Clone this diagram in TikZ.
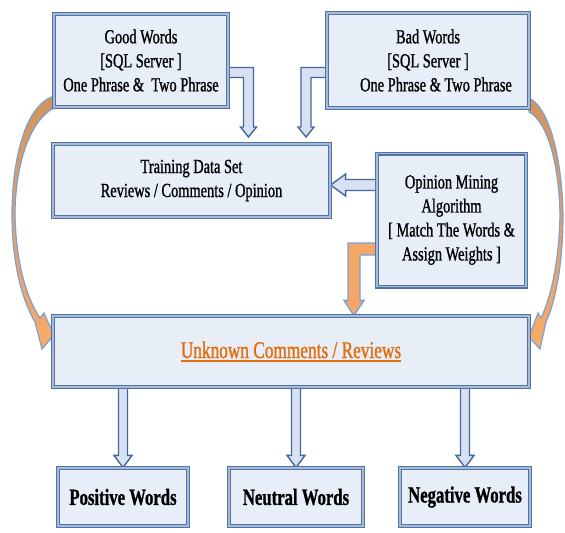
\documentclass[tikz,border=0pt]{standalone}
\usepackage{fontspec}
\setmainfont{Liberation Serif}[FakeStretch=0.72, FakeBold=1]
\usetikzlibrary{calc,backgrounds,shadows}

\definecolor{boxfill}{HTML}{E8EEF8}
\definecolor{boxline}{HTML}{52729F}
\definecolor{boxmid}{HTML}{A6BADB}
\definecolor{arrowfill}{HTML}{D7E1F1}
\definecolor{arrowline}{HTML}{44679C}
\definecolor{orangefill}{HTML}{F5A767}
\definecolor{orangeline}{HTML}{78A2D8}
\definecolor{curvetop}{HTML}{D2945D}
\definecolor{curvebottom}{HTML}{F9AB69}
\definecolor{unktext}{HTML}{E46C0A}

% underline with a heavier rule
\newcommand{\thickul}[1]{\leavevmode\vtop{\hbox{#1}\kern0.8pt\hrule height 0.9pt}}

\tikzset{
  wordbox/.style={draw=boxline, line width=0.6pt, double=boxmid, double distance=0.8pt,
    fill=boxfill, align=center, inner sep=2pt, font=\fontsize{10}{12}\selectfont,
    drop shadow={shadow xshift=0.7pt, shadow yshift=-0.7pt, fill=black!20}},
  resultbox/.style={wordbox, font=\fontsize{11.6}{13}\selectfont\bfseries},
  blk/.style={draw=arrowline, line width=0.7pt, fill=arrowfill, line join=miter},
  orangeblk/.style={draw=orangeline, line width=0.7pt, fill=orangefill, line join=miter},
  curveblk/.style={draw=orangeline, line width=0.6pt, top color=curvetop, bottom color=curvebottom},
}

% block arrow sizes: shaft half width, head half width, head length
\def\shw{2.25pt}
\def\hhw{4.5pt}
\def\hln{6pt}

% #1 style, #2 start, #3 tip (straight down)
\newcommand{\blkdown}[3]{%
  \draw[#1] let \p1=#2, \p2=#3 in
    ({\x2-\shw},\y1) -- ({\x2-\shw},{\y2+\hln}) -- ({\x2-\hhw},{\y2+\hln}) -- (\x2,\y2)
    -- ({\x2+\hhw},{\y2+\hln}) -- ({\x2+\shw},{\y2+\hln}) -- ({\x2+\shw},\y1) -- cycle;}

% #1 style, #2 start, #3 tip (straight left)
\newcommand{\blkleft}[3]{%
  \draw[#1] let \p1=#2, \p2=#3 in
    (\x1,{\y2+\shw}) -- ({\x2+\hln},{\y2+\shw}) -- ({\x2+\hln},{\y2+\hhw}) -- (\x2,\y2)
    -- ({\x2+\hln},{\y2-\hhw}) -- ({\x2+\hln},{\y2-\shw}) -- (\x1,{\y2-\shw}) -- cycle;}

% #1 style, #2 start, #3 corner, #4 tip, #5 1 = turn from left, -1 = turn from right
\newcommand{\elblk}[5]{%
  \draw[#1] let \p1=#2, \p2=#3, \p3=#4 in
    (\x1,{\y2+\shw}) -- ({\x2+(#5)*\shw},{\y2+\shw}) -- ({\x2+(#5)*\shw},{\y3+\hln})
    -- ({\x2+(#5)*\hhw},{\y3+\hln}) -- (\x2,\y3) -- ({\x2-(#5)*\hhw},{\y3+\hln})
    -- ({\x2-(#5)*\shw},{\y3+\hln}) -- ({\x2-(#5)*\shw},{\y2-\shw}) -- (\x1,{\y2-\shw}) -- cycle;}

\begin{document}
\begin{tikzpicture}[x=0.5pt,y=-0.5pt]
  \useasboundingbox (0,0) rectangle (565,532);

  % word lists
  \node[wordbox, minimum width=87pt, minimum height=46.5pt] (good) at (141,60.5)
    {Good Words\\{}[SQL Server ]\\One Phrase \&~ Two Phrase};
  \node[wordbox, minimum width=101pt, minimum height=47.5pt] (bad) at (428,60.5)
    {Bad Words\\{}[SQL Server ]\\\hspace*{8pt}One Phrase \& Two Phrase};

  % training set and algorithm
  \node[wordbox, minimum width=138.5pt, minimum height=36.5pt] (train) at (191.5,180.5)
    {Training Data Set\\Reviews / Comments / Opinion};
  \node[wordbox, minimum width=74.5pt, minimum height=66.5pt] (opin) at (451.5,220)
    {Opinion Mining\\Algorithm\\{}[ Match The Words \&\\Assign Weights ]};

  \node[wordbox, minimum width=238pt, minimum height=35.5pt, text=unktext,
    font=\fontsize{12}{14}\selectfont] (unk) at (291,351.5)
    {\thickul{Unknown Comments / Reviews}};

  % results
  \node[resultbox, minimum width=65pt, minimum height=29pt] (pos) at (123,497) {Positive Words};
  \node[resultbox, minimum width=67pt, minimum height=29pt] (neu) at (296,497) {Neutral Words};
  \node[resultbox, minimum width=65pt, minimum height=29pt] (neg) at (465,497) {Negative Words};

  \coordinate (gturn) at (248.5,72.5);
  \coordinate (gtip) at (248.5,137);
  \coordinate (bturn) at (306,72.5);
  \coordinate (btip) at (306,137);
  \coordinate (olevel) at (0,185);
  \coordinate (oturn) at (354,249);

  \begin{scope}[on background layer]
    % word lists into training set
    \def\shw{2.5pt}\def\hhw{4pt}\def\hln{5pt}
    \elblk{blk}{(good.east |- gturn)}{(gturn)}{(gtip)}{1}
    \elblk{blk}{(bad.west |- bturn)}{(bturn)}{(btip)}{-1}

    \def\shw{2.75pt}\def\hhw{5.5pt}\def\hln{7.5pt}
    \blkleft{blk}{(opin.west |- olevel)}{(train.east |- olevel)}

    \def\shw{3pt}\def\hhw{5pt}\def\hln{7.5pt}
    \elblk{orangeblk}{(opin.west |- oturn)}{(oturn)}{(unk.north -| oturn)}{-1}

    % unknown comments into classes
    \def\shw{2.25pt}\def\hhw{4.5pt}\def\hln{6pt}
    \blkdown{blk}{(unk.south -| pos.north)}{(pos.north)}
    \blkdown{blk}{(unk.south -| neu.north)}{(neu.north)}
    \blkdown{blk}{(unk.south -| neg.north)}{(neg.north)}

    % curved arrows round the sides
    \draw[curveblk] (54,96) .. controls (25,105) and (12,160) .. (12,215)
      .. controls (12,262) and (22,300) .. (35,322) -- (42,349) -- (54,335) -- (44,313)
      -- (40,318) .. controls (26,297) and (16,262) .. (15,215)
      .. controls (15,165) and (30,120) .. (54,108) -- cycle;
    \draw[curveblk] (529,98) .. controls (550,108) and (562,160) .. (563,215)
      .. controls (563,262) and (556,300) .. (546,322) -- (540,349) -- (529,337) -- (538,313)
      -- (541,318) .. controls (551,297) and (559,262) .. (560,215)
      .. controls (559,165) and (548,122) .. (529,112) -- cycle;
  \end{scope}
\end{tikzpicture}
\end{document}
